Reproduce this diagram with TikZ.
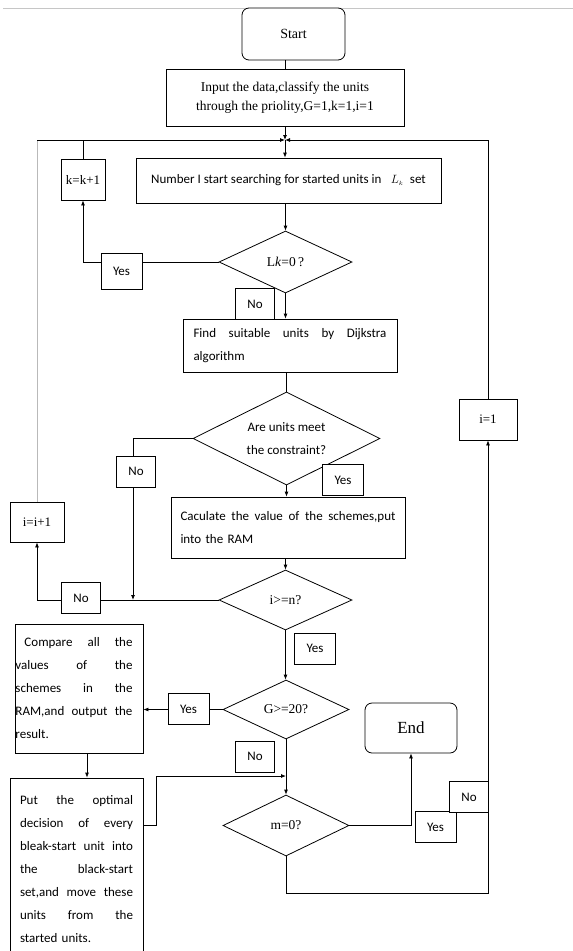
\documentclass[tikz,border=0pt]{standalone}
\usepackage{fontspec}
\setmainfont{Liberation Serif}
\newfontfamily\carl{Carlito}
\usetikzlibrary{shapes.geometric,arrows.meta,positioning,calc}
\newcommand{\jline}[2]{\leavevmode\hbox to #1{\spaceskip=0.25em plus 1fil\relax #2}\\}
\tikzset{
  pbox/.style={draw,line width=0.8pt,fill=white,inner sep=0pt},
  term/.style={draw,line width=0.8pt,rounded corners=7pt,fill=white,inner sep=0pt},
  cond/.style={draw,diamond,aspect=2,line width=0.8pt,fill=white,inner sep=0pt},
  lbl/.style={draw,line width=0.8pt,fill=white,inner xsep=12pt,inner ysep=0pt,
              minimum height=31pt,font=\carl\fontsize{13}{14}\selectfont},
  sans/.style={font=\carl\fontsize{13}{23}\selectfont},
  ser/.style={font=\fontsize{13.5}{19}\selectfont},
  eqn/.style={font=\fontsize{13}{15}\selectfont},
  ln/.style={line width=0.8pt},
  arr/.style={-{Latex[length=5pt,width=4pt]},line width=0.8pt},
}
\begin{document}
\begin{tikzpicture}[x=1pt,y=-1pt]
  \useasboundingbox (0,0) rectangle (573,951);
  \draw[gray!45,line width=0.8pt] (3,8.5) -- (573,8.5);

  % main column
  \node[term,font=\fontsize{14}{16}\selectfont,minimum width=103pt,minimum height=52pt]
    (start) at (293.5,34) {Start};
  \node[pbox,ser,minimum width=238pt,minimum height=57pt,align=center] (input) at (285,97.5)
    {Input the data,classify the units\\through the priolity,G=1,k=1,i=1};
  \coordinate (jn) at (285,140);
  \node[pbox,sans,minimum width=305pt,minimum height=45pt] (num) at (288.5,180.5)
    {Number I start searching for started units in \enspace$L_{\scriptscriptstyle k}$\enspace set};
  \node[cond,ser,minimum width=133pt,minimum height=62pt] (d1) at (285.5,262)
    {L\textit{k}=0\,?};
  \node[pbox,sans,minimum width=214pt,minimum height=53pt,text width=193pt,align=left]
    (find) at (290,345.5) {\jline{193pt}{Find suitable units by Dijkstra}algorithm};
  \node[cond,sans,minimum width=187pt,minimum height=93pt,align=center] (d2) at (286.5,438.5)
    {Are units meet\\the constraint?};
  \node[pbox,sans,minimum width=234pt,minimum height=61pt,text width=215pt,align=left]
    (calc) at (288,527.5) {\jline{215pt}{Caculate the value of the schemes,put}into the RAM};
  \node[cond,ser,minimum width=133pt,minimum height=60pt] (d3) at (285.5,600) {i>=n?};
  \node[cond,ser,minimum width=126pt,minimum height=59pt] (d4) at (286,709.5) {G>=20?};
  \node[cond,ser,minimum width=126pt,minimum height=61pt] (d5) at (286,825.5) {m=0?};
  \node[term,font=\fontsize{17}{19}\selectfont,minimum width=92pt,minimum height=50pt]
    (endn) at (411,728) {End};

  % side boxes
  \node[pbox,eqn,minimum width=44pt,minimum height=41pt] (kinc) at (83,179.5) {k=k+1};
  \node[pbox,eqn,minimum width=54pt,minimum height=40pt] (iinc) at (37,522) {i=i+1};
  \node[pbox,eqn,minimum width=58pt,minimum height=41pt] (ione) at (488,419.5) {i=1};
  \node[pbox,sans,minimum width=128pt,minimum height=129pt,text width=127pt,align=left]
    (cmp) at (79,688.5)
    {\jline{117pt}{\hspace*{9pt}Compare all the}\jline{117pt}{values of the}%
     \jline{117pt}{schemes in the}\jline{117pt}{RAM,and output the}result.};
  \node[pbox,sans,minimum width=133pt,minimum height=182pt,text width=113pt,align=left]
    (put) at (76.5,869)
    {\jline{113pt}{Put the optimal}\jline{113pt}{decision of every}%
     \jline{113pt}{bleak-start unit into}\jline{113pt}{the black-start}%
     \jline{113pt}{set,and move these}\jline{113pt}{units from the}started units.};

  \coordinate (nj) at (133,600);
  \coordinate (mrg) at (286,776);

  % connectors
  \draw[ln] (input.north) -- (input.north |- start.south);
  \draw[arr] (input.south) -- (jn);
  \draw[arr] (jn) -- (jn |- num.north);
  \draw[arr] (ione.north) |- (jn);
  \draw[arr] (kinc.north) |- (jn);
  \draw[gray!55,line width=0.8pt] (iinc.north) -- (iinc.north |- jn);
  \draw[ln] (iinc.north |- jn) -- (kinc.north |- jn);
  \draw[arr] (num.south -| d1.north) -- (d1.north);
  \draw[arr] (d1.west) -| (kinc.south);
  \draw[arr] (d1.south) -- (d1.south |- find.north);
  \draw[ln] (d2.north |- find.south) -- (d2.north);
  \draw[arr] (d2.west) -| (nj);
  \draw[arr] (d2.south) -- (d2.south |- calc.north);
  \draw[arr] (calc.south -| d3.north) -- (d3.north);
  \draw[arr] (d3.west) -| (iinc.south);
  \draw[arr] (d3.south) -- (d3.south |- d4.north);
  \draw[arr] (d4.west) -- (d4.west -| cmp.east);
  \draw[arr] ([xshift=8pt]cmp.south) -- ([xshift=8pt]cmp.south |- put.north);
  \draw[arr] (put.east |- d5.west) -- ++(13,0) |- (mrg);
  \draw[arr] (d4.south) -- (d4.south |- d5.north);
  \draw[arr] (d5.east) -| (endn.south);
  \draw[arr] (d5.south) -- ++(0,37) -| (ione.south);

  % yes / no tags
  \node[lbl,minimum height=36pt] (y1) at (121.5,271) {Yes};
  \node[lbl] (n1) at (255,304) {No};
  \node[lbl] (n2) at (136,471.5) {No};
  \node[lbl] (y2) at (343,480) {Yes};
  \node[lbl] (n3) at (81,598) {No};
  \node[lbl] (y3) at (315,648.5) {Yes};
  \node[lbl] (y4) at (188.5,709) {Yes};
  \node[lbl] (n4) at (255,756.5) {No};
  \node[lbl] (y5) at (435.5,827) {Yes};
  \node[lbl] (n5) at (469,797) {No};
\end{tikzpicture}
\end{document}
